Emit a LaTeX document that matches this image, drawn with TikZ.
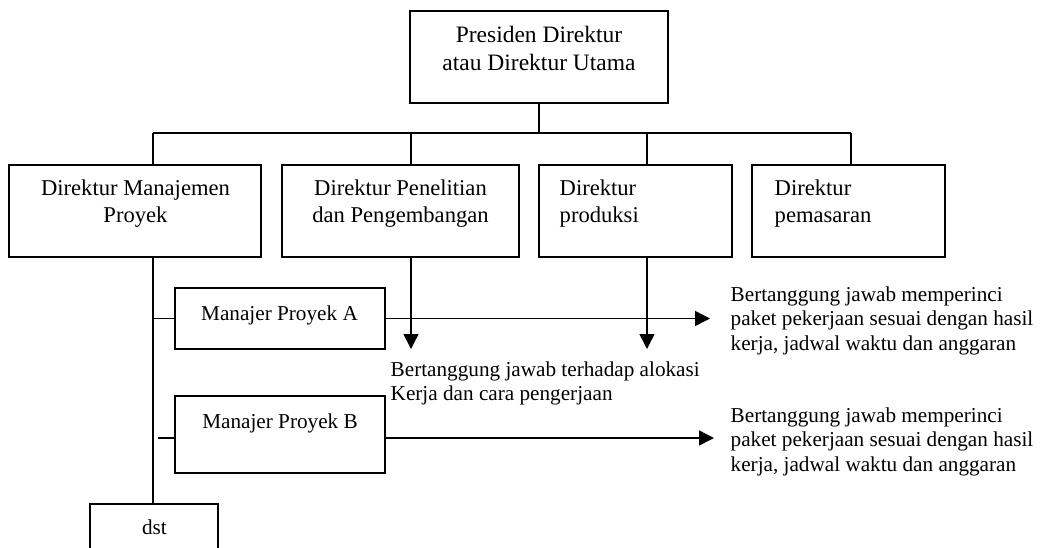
\documentclass[tikz,border=0pt]{standalone}
\usepackage{fontspec}
\setmainfont{Liberation Serif}
\usetikzlibrary{arrows.meta}
\begin{document}
\begin{tikzpicture}[x=1pt,y=-1pt, line width=1.4pt,
  boxe/.style={draw, line width=1.4pt, inner sep=0pt},
  txt/.style={inner sep=0pt},
  fbig/.style={font=\fontsize{23.5}{28}\selectfont},
  fmid/.style={font=\fontsize{22.6}{27}\selectfont},
  fsml/.style={font=\fontsize{21.2}{24.5}\selectfont},
  arr/.style={-{Triangle[length=15pt,width=15pt]}}]
\useasboundingbox (0,0) rectangle (1044,547);
\clip (0,0) rectangle (1044,547);
% boxes
\node[boxe, minimum width=258pt, minimum height=92pt] (top) at (539,57) {};
\node[boxe, minimum width=252pt, minimum height=92pt] (b1) at (135,211) {};
\node[boxe, minimum width=237pt, minimum height=92pt] (b2) at (400.5,211) {};
\node[boxe, minimum width=193pt, minimum height=92pt] (b3) at (635.5,211) {};
\node[boxe, minimum width=193pt, minimum height=92pt] (b4) at (848.5,211) {};
\node[boxe, minimum width=210pt, minimum height=61pt] (mA) at (280,318.5) {};
\node[boxe, minimum width=210pt, minimum height=77pt] (mB) at (280,434.5) {};
\node[boxe, minimum width=128pt, minimum height=70pt] (dst) at (154,539) {};
% texts (base anchor = baseline of last line)
\node[txt, fbig, align=center, anchor=base] (ttop) at (539,70) {Presiden Direktur\\atau Direktur Utama};
\node[txt, fmid, align=center, anchor=base] (t1) at (135.5,222) {Direktur Manajemen\\Proyek};
\node[txt, fmid, align=center, anchor=base] (t2) at (400.5,222) {Direktur Penelitian\\dan Pengembangan};
\node[txt, fmid, align=left, anchor=base west] (t3) at (559,222) {Direktur\\produksi};
\node[txt, fmid, align=left, anchor=base west] (t4) at (774,222) {Direktur\\pemasaran};
\node[txt, fsml, anchor=base] (tA) at (279.5,320) {Manajer Proyek A};
\node[txt, fsml, anchor=base] (tB) at (280,428) {Manajer Proyek B};
\node[txt, fsml, anchor=base] (td) at (154.5,534) {dst};
\node[txt, fsml, align=left, anchor=base west] (nA) at (730,350) {Bertanggung jawab memperinci\\paket pekerjaan sesuai dengan hasil\\kerja, jadwal waktu dan anggaran};
\node[txt, fsml, align=left, anchor=base west] (nB) at (730,471) {Bertanggung jawab memperinci\\paket pekerjaan sesuai dengan hasil\\kerja, jadwal waktu dan anggaran};
\node[txt, fsml, align=left, anchor=base west] (nM) at (390,400.5) {Bertanggung jawab terhadap alokasi\\Kerja dan cara pengerjaan};
% bus
\coordinate (j1) at (153,133);
\coordinate (j2) at (411,133);
\coordinate (j3) at (647,133);
\coordinate (j4) at (851,133);
\draw (top.south) -- (top.south |- j1);
\draw (j1) -- (j4);
\draw (j1) -- (j1 |- b1.north);
\draw (j2) -- (j2 |- b2.north);
\draw (j3) -- (j3 |- b3.north);
\draw (j4) -- (j4 |- b4.north);
% project manager chain
\draw (b1.south -| j1) -- (dst.north -| j1);
\draw (j1 |- mA.west) -- (mA.west);
\coordinate (bB) at (158,438);
\draw (bB) -- (bB -| mB.west);
% arrows
\coordinate (tipA) at (710,318.5);
\coordinate (tipB) at (714,438);
\draw[arr] (mA.east) -- (tipA);
\draw[arr] (bB -| mB.east) -- (tipB);
\coordinate (tip2) at (411,349);
\coordinate (tip3) at (647,349);
\draw[arr] (b2.south -| j2) -- (tip2);
\draw[arr] (b3.south -| j3) -- (tip3);
\end{tikzpicture}
\end{document}
